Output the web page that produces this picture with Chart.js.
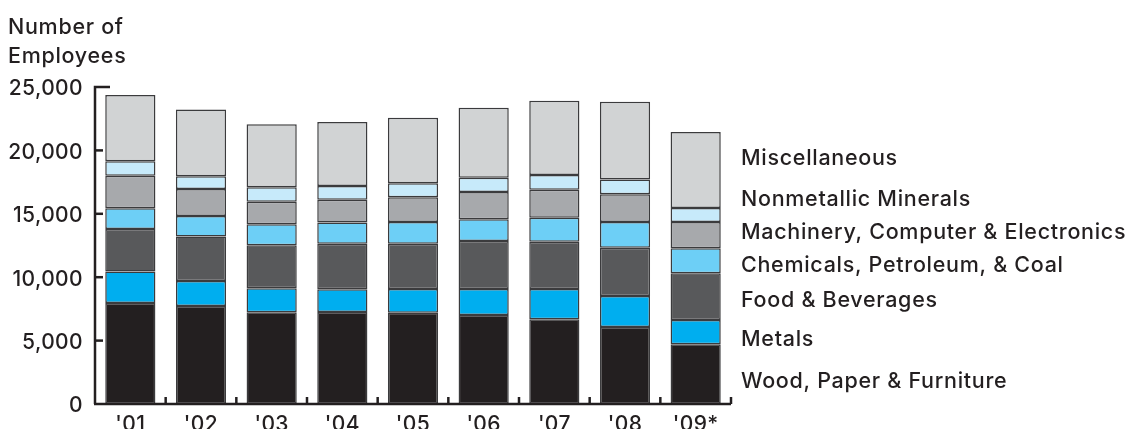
<!DOCTYPE html>
<html>
<head>
<meta charset="utf-8">
<script src="https://cdn.jsdelivr.net/npm/chart.js@4"></script>
<style>
  html, body { margin: 0; padding: 0; background: #fff; }
</style>
</head>
<body>
<canvas id="empchart" width="1132" height="429"></canvas>
<script>
const years = ["'01", "'02", "'03", "'04", "'05", "'06", "'07", "'08", "'09*"];
const wood = [7970, 7730, 7230, 7250, 7200, 7020, 6680, 6070, 4710];
const metals = [2470, 1970, 1890, 1790, 1870, 2050, 2390, 2450, 1920];
const food = [3360, 3500, 3390, 3600, 3570, 3790, 3730, 3810, 3680];
const chemicals = [1630, 1630, 1660, 1680, 1710, 1710, 1890, 2030, 1970];
const machinery = [2580, 2130, 1790, 1790, 1950, 2150, 2210, 2180, 2080];
const nonmetallic = [1130, 1000, 1130, 1080, 1100, 1130, 1160, 1160, 1100];
const misc = [5230, 5260, 4970, 5050, 5180, 5520, 5860, 6130, 6000];
const yTicks = [0, 5000, 10000, 15000, 20000, 25000];

const ink = "#231f20";
const FONT = "Inter, 'Liberation Sans', Arial, sans-serif";

function series(label, data, color) {
  return {
    label: label,
    data: data,
    backgroundColor: color,
    borderColor: "#3b3b3d",
    borderWidth: 1.5,
    borderSkipped: false,
    barPercentage: 0.71,
    categoryPercentage: 1.0,
  };
}

const datasets = [
  series("Wood, Paper & Furniture", wood, "#231f20"),
  series("Metals", metals, "#00aeef"),
  series("Food & Beverages", food, "#58595b"),
  series("Chemicals, Petroleum, & Coal", chemicals, "#6dcff6"),
  series("Machinery, Computer & Electronics", machinery, "#a7a9ac"),
  series("Nonmetallic Minerals", nonmetallic, "#c7eafa"),
  series("Miscellaneous", misc, "#d1d3d4"),
];

// baseline y of each side label, top to bottom
const sideLabels = [
  ["Miscellaneous", 165],
  ["Nonmetallic Minerals", 206],
  ["Machinery, Computer & Electronics", 239],
  ["Chemicals, Petroleum, & Coal", 272],
  ["Food & Beverages", 307],
  ["Metals", 346],
  ["Wood, Paper & Furniture", 388],
];

const spacing = {
  id: "spacing",
  beforeDraw(chart) {
    chart.ctx.letterSpacing = "0.4px";
  },
};

const decorations = {
  id: "decorations",
  afterDraw(chart) {
    const ctx = chart.ctx;
    const xs = chart.scales.x;
    const ys = chart.scales.y;
    const left = chart.chartArea.left;
    const bottom = ys.getPixelForValue(0);
    const top = ys.getPixelForValue(25000);
    ctx.save();
    ctx.strokeStyle = ink;
    ctx.lineWidth = 2.5;
    ctx.lineCap = "butt";
    // y axis with bracket at the top
    ctx.beginPath();
    ctx.moveTo(left + 15, top);
    ctx.lineTo(left, top);
    ctx.lineTo(left, bottom);
    ctx.stroke();
    yTicks.slice(1, -1).forEach((v) => {
      const py = ys.getPixelForValue(v);
      ctx.beginPath();
      ctx.moveTo(left, py);
      ctx.lineTo(left + 8, py);
      ctx.stroke();
    });
    // x axis and ticks between categories
    const n = years.length;
    const step = xs.getPixelForValue(1) - xs.getPixelForValue(0);
    const right = xs.getPixelForValue(n - 1) + step / 2;
    ctx.beginPath();
    ctx.moveTo(left - 1, bottom);
    ctx.lineTo(right, bottom);
    ctx.stroke();
    for (let i = 0; i < n; i++) {
      const px = xs.getPixelForValue(i) + step / 2;
      ctx.beginPath();
      ctx.moveTo(px, bottom);
      ctx.lineTo(px, bottom - 7);
      ctx.stroke();
    }
    // axis title
    ctx.fillStyle = ink;
    ctx.letterSpacing = "0.7px";
    ctx.font = "500 21.5px " + FONT;
    ctx.textAlign = "left";
    ctx.textBaseline = "alphabetic";
    ctx.fillText("Number of", 8, 34);
    ctx.fillText("Employees", 8, 63);
    // labels on the right
    ctx.letterSpacing = "0.7px";
    ctx.font = "500 21.5px " + FONT;
    sideLabels.forEach(([txt, by]) => ctx.fillText(txt, 741, by));
    ctx.restore();
  },
};

new Chart(document.getElementById("empchart"), {
  type: "bar",
  data: { labels: years, datasets: datasets },
  options: {
    responsive: false,
    animation: false,
    devicePixelRatio: 1,
    layout: { padding: { left: 0, right: 401, top: 87, bottom: 0 } },
    plugins: { legend: { display: false }, tooltip: { enabled: false } },
    scales: {
      x: {
        stacked: true,
        grid: { display: false, drawTicks: false },
        border: { display: false },
        ticks: { color: ink, font: { size: 21, family: FONT, weight: 500 }, padding: 8 },
        afterFit(scale) { scale.height = 25; },
      },
      y: {
        stacked: true,
        min: 0,
        max: 25000,
        grid: { display: false, drawTicks: false },
        border: { display: false },
        afterBuildTicks(scale) { scale.ticks = yTicks.map((v) => ({ value: v })); },
        ticks: {
          color: ink,
          font: { size: 21, family: FONT, weight: 500 },
          padding: 12,
          labelOffset: 2,
          callback: (v) => v.toLocaleString("en-US"),
        },
        afterFit(scale) { scale.width = 95; },
      },
    },
  },
  plugins: [spacing, decorations],
});
</script>
</body>
</html>
